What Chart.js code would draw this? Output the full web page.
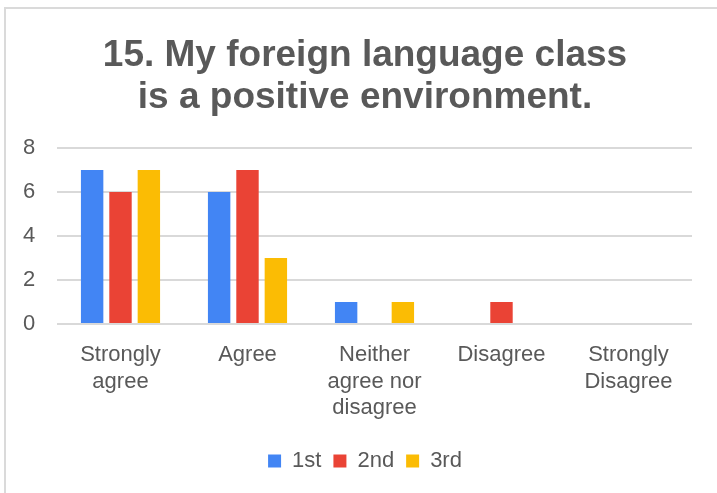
<!DOCTYPE html>
<html>
<head>
<meta charset="utf-8">
<script src="https://cdn.jsdelivr.net/npm/chart.js@4"></script>
<style>
  html, body { margin: 0; padding: 0; background: #ffffff; overflow: hidden; }
  #frame {
    position: absolute; left: 4px; top: 7px; width: 760px; height: 540px;
    border-top: 2px solid #dadada; border-left: 2px solid #dadada;
  }
  #wrap { position: absolute; left: 0; top: 0; width: 717px; height: 493px; }
</style>
</head>
<body>
<div id="frame"></div>
<div id="wrap"><canvas id="chart" width="717" height="493"></canvas></div>
<script>
// Survey answers to question 15, counted per class group
const titleLines = ["15. My foreign language class", "is a positive environment."];
const categories = [
  ["Strongly", "agree"],
  ["Agree"],
  ["Neither", "agree nor", "disagree"],
  ["Disagree"],
  ["Strongly", "Disagree"]
];
const seriesNames = ["1st", "2nd", "3rd"];
const series1st = [7, 6, 1, 0, 0];
const series2nd = [6, 7, 0, 1, 0];
const series3rd = [7, 3, 1, 0, 0];
const yTicks = [0, 2, 4, 6, 8];

const seriesColors = ["#4285F4", "#EA4335", "#FBBC04"];
const textColor = "#595959";
const gridColor = "#d9d9d9";
const family = "'Liberation Sans', Arial, sans-serif";

const ctx = document.getElementById("chart").getContext("2d");
new Chart(ctx, {
  type: "bar",
  data: {
    labels: categories,
    datasets: [series1st, series2nd, series3rd].map((values, i) => ({
      label: seriesNames[i],
      data: values,
      backgroundColor: seriesColors[i],
      borderWidth: 0,
      categoryPercentage: 0.67,
      barPercentage: 0.79
    }))
  },
  options: {
    responsive: false,
    animation: false,
    layout: { padding: { left: 38, right: 25, top: 0, bottom: 11 } },
    plugins: {
      title: {
        display: true,
        text: titleLines,
        color: textColor,
        font: { family, size: 37, weight: "bold", lineHeight: 1.14 },
        padding: { top: 35, bottom: 28.6 }
      },
      legend: {
        position: "bottom",
        labels: {
          color: textColor,
          font: { family, size: 22, lineHeight: 1.2 },
          boxWidth: 13,
          boxHeight: 13,
          padding: 12
        }
      },
      tooltip: { enabled: false }
    },
    scales: {
      x: {
        grid: { display: false, drawTicks: false },
        border: { display: false },
        ticks: {
          color: textColor,
          font: { family, size: 22, lineHeight: 1.2 },
          padding: 18,
          maxRotation: 0,
          autoSkip: false
        },
        afterFit(scale) { scale.height = 114; }
      },
      y: {
        min: yTicks[0],
        max: yTicks[yTicks.length - 1],
        grid: { color: gridColor, lineWidth: 2, drawTicks: false },
        border: { display: false },
        ticks: {
          stepSize: yTicks[1] - yTicks[0],
          color: textColor,
          font: { family, size: 22 },
          // labels sit left of the narrow axis box, outside the plot
          mirror: true,
          padding: -34
        },
        afterFit(scale) { scale.width = 19; }
      }
    }
  }
});
</script>
</body>
</html>
